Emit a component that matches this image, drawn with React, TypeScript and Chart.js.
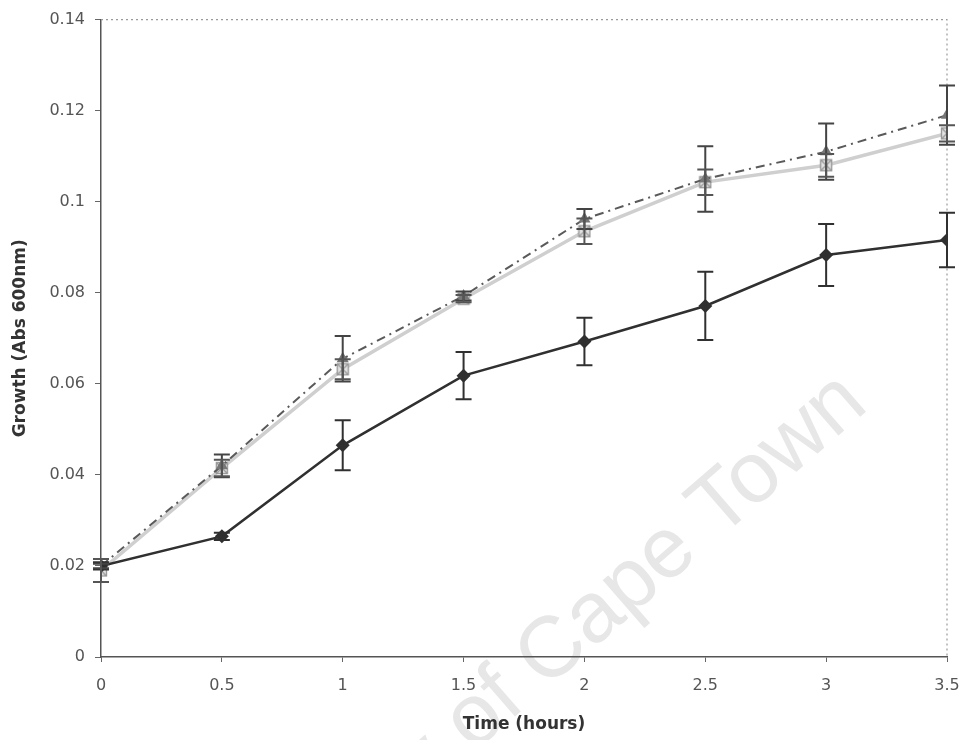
import React, { useEffect, useRef } from "react";
import { Chart, registerables } from "chart.js";

Chart.register(...registerables);

const times = [0, 0.5, 1, 1.5, 2, 2.5, 3, 3.5];
const seriesA = [0.02, 0.0265, 0.0465, 0.0618, 0.0693, 0.0771, 0.0883, 0.0916];
const seriesAErr = [0.0008, 0.0008, 0.0055, 0.0052, 0.0052, 0.0075, 0.0068, 0.006];
const seriesB = [0.02, 0.042, 0.0655, 0.0793, 0.0962, 0.105, 0.111, 0.119];
const seriesBErr = [0.0005, 0.0025, 0.005, 0.001, 0.0022, 0.0072, 0.0062, 0.0065];
const seriesC = [0.019, 0.0415, 0.0632, 0.0787, 0.0935, 0.1043, 0.108, 0.115];
const seriesCErr = [0.0025, 0.0018, 0.0022, 0.0008, 0.0028, 0.0028, 0.0025, 0.0018];
const xTickLabels = ["0", "0.5", "1", "1.5", "2", "2.5", "3", "3.5"];
const yTickLabels = ["0", "0.02", "0.04", "0.06", "0.08", "0.1", "0.12", "0.14"];
const xTitle = "Time (hours)";
const yTitle = "Growth (Abs 600nm)";
const watermark = "University of Cape Town";

const FONT = "'DejaVu Sans', Arial, sans-serif";

function makeBoxX(): HTMLCanvasElement {
  const c = document.createElement("canvas");
  c.width = 14;
  c.height = 14;
  const g = c.getContext("2d")!;
  g.fillStyle = "#e4e4e4";
  g.fillRect(1, 1, 12, 12);
  g.strokeStyle = "#999999";
  g.lineWidth = 1.4;
  g.strokeRect(1.5, 1.5, 11, 11);
  g.beginPath();
  g.moveTo(2, 2);
  g.lineTo(12, 12);
  g.moveTo(12, 2);
  g.lineTo(2, 12);
  g.stroke();
  return c;
}

const errorBarPlugin = {
  id: "errorBars",
  afterDatasetsDraw(chart: any) {
    const ctx = chart.ctx;
    const xs = chart.scales.x;
    const ys = chart.scales.y;
    chart.data.datasets.forEach((ds: any) => {
      const errs: number[] = ds.errors;
      if (!errs) return;
      ctx.save();
      ctx.strokeStyle = ds.errorColor;
      ctx.lineWidth = ds.errorWidth;
      ds.data.forEach((p: any, i: number) => {
        const x = xs.getPixelForValue(p.x);
        const yTop = ys.getPixelForValue(p.y + errs[i]);
        const yBot = ys.getPixelForValue(p.y - errs[i]);
        const cap = 8;
        ctx.beginPath();
        ctx.moveTo(x, yTop);
        ctx.lineTo(x, yBot);
        ctx.moveTo(x - cap, yTop);
        ctx.lineTo(x + cap, yTop);
        ctx.moveTo(x - cap, yBot);
        ctx.lineTo(x + cap, yBot);
        ctx.stroke();
      });
      ctx.restore();
    });
  },
};

const watermarkPlugin = {
  id: "watermark",
  beforeDraw(chart: any) {
    const { ctx } = chart;
    ctx.save();
    ctx.translate(870, 408);
    ctx.rotate((-41 * Math.PI) / 180);
    ctx.font = "86px 'Liberation Sans', Arial, sans-serif";
    ctx.fillStyle = "#e7e7e7";
    ctx.textAlign = "right";
    ctx.textBaseline = "alphabetic";
    ctx.fillText(watermark, 0, 0);
    ctx.restore();
  },
};

const framePlugin = {
  id: "frame",
  beforeDatasetsDraw(chart: any) {
    const { ctx, chartArea } = chart;
    ctx.save();
    ctx.strokeStyle = "#9a9a9a";
    ctx.lineWidth = 1.2;
    ctx.setLineDash([2, 3]);
    ctx.beginPath();
    ctx.moveTo(chartArea.left, chartArea.top);
    ctx.lineTo(chartArea.right, chartArea.top);
    ctx.lineTo(chartArea.right, chartArea.bottom);
    ctx.stroke();
    ctx.restore();
  },
};

export default function App() {
  const ref = useRef<HTMLCanvasElement>(null);

  useEffect(() => {
    document.body.style.margin = "0";
    const boxX = makeBoxX();
    const toPts = (ys: number[]) => times.map((t, i) => ({ x: t, y: ys[i] }));
    const chart = new Chart(ref.current!, {
      type: "line",
      data: {
        datasets: [
          {
            label: "A",
            data: toPts(seriesA),
            borderColor: "#303030",
            backgroundColor: "#303030",
            borderWidth: 2.5,
            pointStyle: "rectRot",
            pointRadius: 7,
            pointBorderWidth: 0,
            errors: seriesAErr,
            errorColor: "#303030",
            errorWidth: 2,
          } as any,
          {
            label: "B",
            data: toPts(seriesB),
            borderColor: "#5a5a5a",
            backgroundColor: "#777777",
            borderWidth: 2,
            borderDash: [9, 5, 2, 5],
            pointStyle: "triangle",
            pointRadius: 7,
            pointBorderWidth: 0,
            errors: seriesBErr,
            errorColor: "#444444",
            errorWidth: 2,
          } as any,
          {
            label: "C",
            data: toPts(seriesC),
            borderColor: "#cfcfcf",
            backgroundColor: "#dddddd",
            borderWidth: 3.5,
            pointStyle: boxX,
            errors: seriesCErr,
            errorColor: "#555555",
            errorWidth: 2,
          } as any,
        ],
      },
      options: {
        animation: false,
        responsive: false,
        layout: { padding: { top: 18, right: 14, left: 0, bottom: 0 } },
        plugins: { legend: { display: false }, tooltip: { enabled: false } },
        scales: {
          x: {
            type: "linear",
            min: 0,
            max: 3.5,
            afterFit: (s: any) => {
              s.height = 83;
              s.paddingLeft = 0;
              s.paddingRight = 0;
            },
            ticks: {
              stepSize: 0.5,
              color: "#555",
              font: { family: FONT, size: 16 },
              padding: 14,
              callback: (_v: any, i: number) => xTickLabels[i],
            },
            grid: {
              drawOnChartArea: false,
              drawTicks: true,
              tickLength: 5,
              color: "#666",
            },
            border: { color: "#555", width: 1.5 },
            title: {
              display: true,
              text: xTitle,
              color: "#333",
              font: { family: FONT, size: 17, weight: "bold" },
              padding: { top: 0, bottom: 5 },
            },
          },
          y: {
            type: "linear",
            min: 0,
            max: 0.14,
            afterFit: (s: any) => {
              s.width = 101;
            },
            ticks: {
              stepSize: 0.02,
              color: "#555",
              font: { family: FONT, size: 16 },
              padding: 10,
              callback: (_v: any, i: number) => yTickLabels[i],
            },
            grid: {
              drawOnChartArea: false,
              drawTicks: true,
              tickLength: 6,
              color: "#666",
            },
            border: { color: "#555", width: 1.5 },
            title: {
              display: true,
              text: yTitle,
              color: "#333",
              font: { family: FONT, size: 17, weight: "bold" },
              padding: { top: 10, bottom: 0 },
            },
          },
        },
      },
      plugins: [watermarkPlugin, framePlugin, errorBarPlugin],
    });
    return () => chart.destroy();
  }, []);

  return (
    <div style={{ position: "relative", width: 961, height: 740, background: "#fff" }}>
      <canvas ref={ref} width={961} height={740} />
    </div>
  );
}
